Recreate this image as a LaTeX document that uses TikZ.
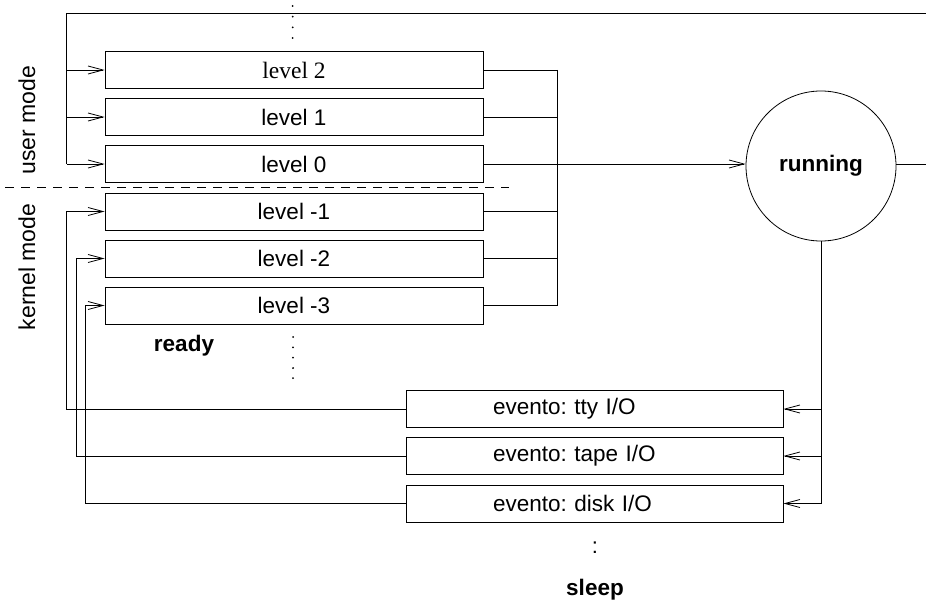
\documentclass[tikz,border=0pt]{standalone}
\usepackage{fontspec}
\setmainfont{Liberation Sans}
\newfontfamily\serifx{Liberation Serif}
\usetikzlibrary{arrows.meta}
\begin{document}
\frenchspacing
\begin{tikzpicture}[x=1pt,y=-1pt, line width=0.8pt,
  lvl/.style={draw, minimum width=378pt, minimum height=37pt, inner sep=0pt, font=\fontsize{22.5}{24}\selectfont},
  evt/.style={lvl, minimum width=377pt, text width=377pt, align=left, font=\fontsize{22.5}{24}\selectfont\frenchspacing},
  arr/.style={-{Straight Barb[length=15pt,width=8pt,line width=0.8pt]}},
  lab/.style={font=\fontsize{23}{24}\selectfont},
  blab/.style={font=\fontsize{22.5}{24}\selectfont\bfseries},
  dashline/.style={dash pattern=on 9pt off 7pt}
]
\useasboundingbox (0,0) rectangle (926,602);
% ready queue boxes
\node[lvl, font=\fontsize{23.5}{25}\selectfont\serifx] (l2) at (294,70) {level 2};
\node[lvl] (l1) at (294,117) {level 1};
\node[lvl] (l0) at (294,164) {level 0};
\node[lvl] (lm1) at (294,211.5) {level -1};
\node[lvl] (lm2) at (294,258.5) {level -2};
\node[lvl] (lm3) at (294,305.5) {level -3};
% running
\node[circle, draw, minimum size=150pt, inner sep=0pt, blab] (run) at (821,166) {running};
% sleep queue boxes
\node[evt] (e1) at (594.5,409) {\hspace*{87pt}evento: tty I/O};
\node[evt] (e2) at (594.5,456) {\hspace*{87pt}evento: tape I/O};
\node[evt] (e3) at (594.5,503.5) {\hspace*{87pt}evento: disk I/O};
% labels
\node[lab, rotate=90] (um) at (27,120) {user mode};
\node[lab, rotate=90] (km) at (27,267) {kernel mode};
\node[blab] (ready) at (184,346) {ready};
\node[blab] (sleep) at (595,590) {sleep};
\node[font=\fontsize{22}{24}\selectfont] (colon) at (595,548) {:};
% coordinates
\coordinate (tl) at (66.5,13);
\coordinate (tr) at (926,13);
\coordinate (rr) at (926,164);
\coordinate (bus) at (557,0);
\coordinate (xa) at (76,0);
\coordinate (xb) at (85.5,0);
\coordinate (d1) at (5,187.5);
\coordinate (d2) at (509,187.5);
% top feedback into user levels
\draw (tr) -- (tl) -- (tl |- l0.west);
\foreach \n in {l2,l1,l0} \draw[arr] (tl |- \n.west) -- (\n.west);
% collector bus
\foreach \n in {l2,l1,l0,lm1,lm2,lm3} \draw (\n.east) -- (\n.east -| bus);
\draw (l2.east -| bus) -- (lm3.east -| bus);
\draw[arr] (l0.east) -- (l0.east -| run.west);
\draw (l0.east -| run.east) -- (rr);
% running to sleep
\draw (run.south) -- (run.south |- e3.east);
\foreach \n in {e1,e2,e3} \draw[arr] (run.south |- \n.east) -- (\n.east);
% sleep back to kernel levels
\draw[arr] (e1.west) -- (e1.west -| tl) -- (tl |- lm1.west) -- (lm1.west);
\draw[arr] (e2.west) -- (e2.west -| xa) -- (xa |- lm2.west) -- (lm2.west);
\draw[arr] (e3.west) -- (e3.west -| xb) -- (xb |- lm3.west) -- (lm3.west);
% mode separator
\draw[dashline] (d1) -- (d2);
% continuation dots
\foreach \y in {6,16.7,27.3,38} \fill (292.7,\y) circle (1pt);
\foreach \y in {337,347.3,357.6,368,378} \fill (293,\y) circle (1pt);
\end{tikzpicture}
\end{document}
